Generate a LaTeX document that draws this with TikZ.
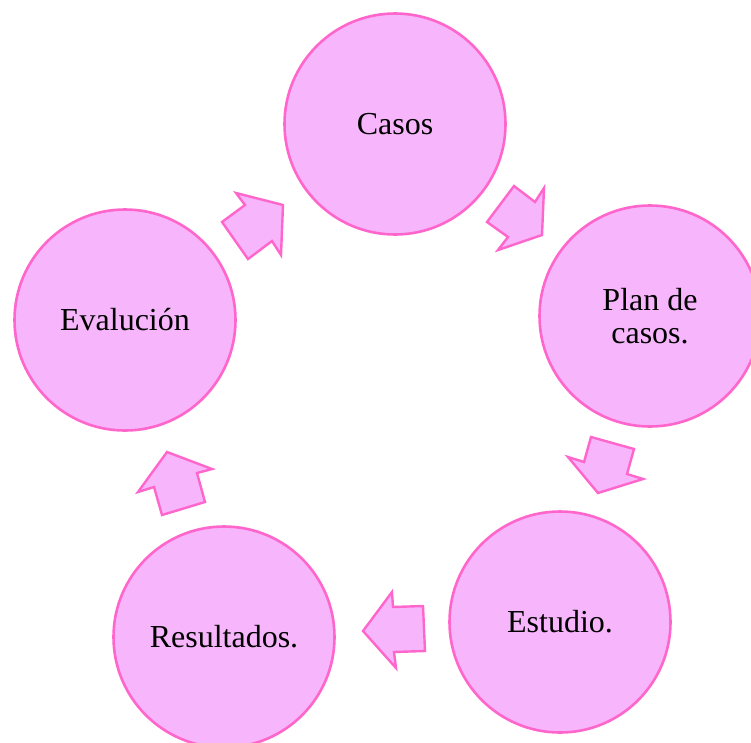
\documentclass[tikz,border=0pt]{standalone}
\usepackage{fontspec}
\setmainfont{Liberation Serif}
\definecolor{fillpink}{HTML}{F7B5FB}
\definecolor{linepink}{HTML}{FF66CC}
\tikzset{
  stage/.style={circle,draw=linepink,fill=fillpink,line width=2.6pt,minimum size=221pt,inner sep=0pt,align=center,font=\fontsize{32}{33}\selectfont,text=black},
  blockarrow/.style={draw=linepink,fill=fillpink,line width=2.4pt,line join=miter,miter limit=10}
}
\begin{document}
\begin{tikzpicture}[x=1pt,y=-1pt]
\useasboundingbox (0,0) rectangle (751,742);
\node[stage] (casos) at (395,124) {Casos};
\node[stage] (plan) at (650,316) {Plan de\\casos.};
\node[stage] (estudio) at (560,622) {Estudio.};
\node[stage] (resultados) at (224,637) {Resultados.};
\node[stage] (evaluacion) at (125,320) {Evalución};
\draw[blockarrow] (514,186) -- (535,202) -- (544,188) -- (542,235) -- (498,250) -- (508,237) -- (487,222) -- cycle;
\draw[blockarrow] (591,437) -- (634,449) -- (627,474) -- (643,479) -- (598,493) -- (568,457) -- (584,462) -- cycle;
\draw[blockarrow] (392,592) -- (393,607) -- (423,606) -- (425,651) -- (394,652) -- (396,668) -- (363,631) -- cycle;
\draw[blockarrow] (167,452) -- (212,469) -- (197,473) -- (205,502) -- (162,515) -- (154,487) -- (138,492) -- cycle;
\draw[blockarrow] (236,193) -- (283,205) -- (281,255) -- (272,241) -- (248,259) -- (222,222) -- (245,205) -- cycle;
\end{tikzpicture}
\end{document}
